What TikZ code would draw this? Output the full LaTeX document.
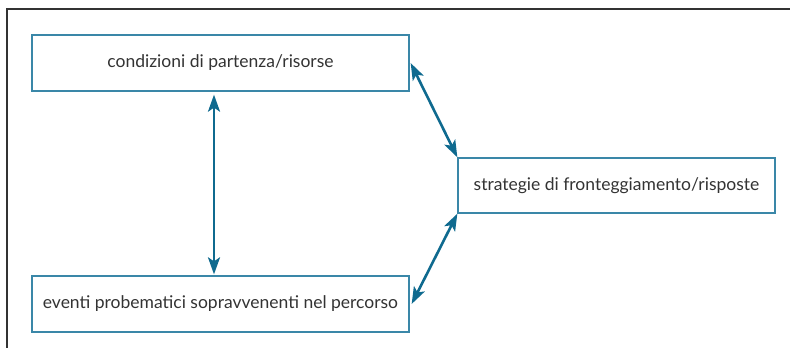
\documentclass[tikz,border=0pt]{standalone}
\usepackage{fontspec}
\setmainfont{Lato}
\usetikzlibrary{arrows.meta}
\definecolor{petrolio}{HTML}{0F6A8F}
\definecolor{bordo}{HTML}{3A87A8}
\definecolor{testo}{HTML}{333333}
\tikzset{
	casella/.style={draw=bordo,line width=1.3pt,text=testo,font=\fontsize{17.5}{20}\selectfont,inner sep=0pt,minimum height=56pt},
	freccia/.style={petrolio,line width=2.6pt,{Stealth[length=17pt,width=12pt,inset=4pt]}-{Stealth[length=17pt,width=12pt,inset=4pt]}}
}
\begin{document}
\begin{tikzpicture}[x=1pt,y=1pt]% schema percorso
			\useasboundingbox (0,0) rectangle (790,-348);
			\draw[testo,line width=1.4pt] (7,-348)--(7,-9)--(790,-9);
			\node[casella,minimum width=377pt] (cond) at (220.5,-63) {condizioni di partenza/risorse};
			\node[casella,minimum width=377pt] (eventi) at (220.5,-304) {eventi probematici sopravvenenti nel percorso};
			\node[casella,minimum width=317pt,minimum height=55pt] (strat) at (616.5,-185.5) {strategie di fronteggiamento/risposte};
			\coordinate (asse) at (214,0);
			\draw[freccia] ([yshift=-3pt]cond.south -| asse)--([yshift=1pt]eventi.north -| asse);
			\draw[freccia] ([xshift=1pt]cond.east)--(strat.north west);
			\draw[freccia] ([xshift=2pt]eventi.east)--(strat.south west);
			\end{tikzpicture}
\end{document}
